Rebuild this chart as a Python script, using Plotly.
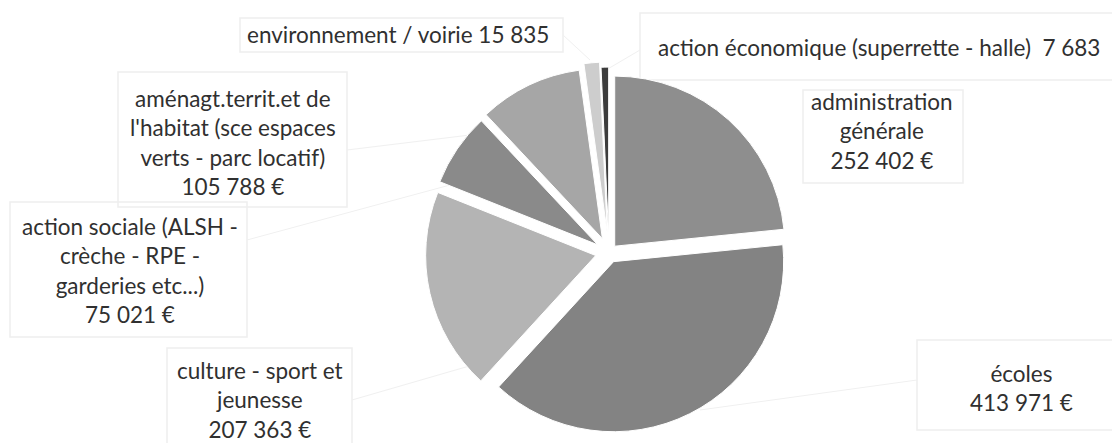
import plotly.graph_objects as go

# ---- data ----
categories = [
    "administration générale",
    "écoles",
    "culture - sport et jeunesse",
    "action sociale (ALSH - crèche - RPE - garderies etc...)",
    "aménagt.territ.et de l'habitat (sce espaces verts - parc locatif)",
    "environnement / voirie",
    "action économique (superrette - halle)",
]
values = [252402, 413971, 207363, 75021, 105788, 15835, 7683]
label_texts = [
    "administration<br>générale<br>252 402 €",
    "écoles<br>413 971 €",
    "culture - sport et<br>jeunesse<br>207 363 €",
    "action sociale (ALSH -<br>crèche - RPE -<br>garderies etc...)<br>75 021 €",
    "aménagt.territ.et de<br>l'habitat (sce espaces<br>verts - parc locatif)<br>105 788 €",
    "environnement / voirie 15 835",
    "action économique (superrette - halle)  7 683",
]

# ---- style ----
colors = ["#8e8e8e", "#838383", "#b4b4b4", "#8a8a8a", "#a6a6a6", "#cdcdcd", "#3c3c3c"]
pulls = [0.05, 0.06, 0.08, 0.08, 0.09, 0.12, 0.09]

W, H = 1112, 443
MT, MB, ML, MR = 62, 0, 0, 0
PW, PH = W - ML - MR, H - MT - MB


def px(x):
    return (x - ML) / PW


def py(y):
    return (H - MB - y) / PH


cx = 609
fig = go.Figure(go.Pie(
    labels=categories,
    values=values,
    sort=False,
    direction="clockwise",
    rotation=0,
    pull=pulls,
    marker=dict(colors=colors, line=dict(color="white", width=1)),
    textinfo="none",
    hoverinfo="label+value",
    domain=dict(x=[px(cx - 200), px(cx + 200)], y=[0, 1]),
    showlegend=False,
))

# label boxes (left, top, right, bottom) and text centres
boxes = [
    (803, 90, 963, 183),
    (917, 340, 1125, 430),
    (167, 348, 352, 460),
    (10, 202, 247, 337),
    (118, 72, 347, 207),
    (240, 18, 563, 52),
    (640, 13, 1125, 80),
]
centres = [
    (882, 131), (1022, 388), (260, 400), (130, 270), (233, 142), (398, 35), (879, 48),
]
# faint leader lines
leaders = [
    ((347, 150), (470, 135)),
    ((247, 240), (450, 185)),
    ((352, 400), (490, 360)),
    ((917, 380), (700, 410)),
    ((563, 35), (590, 60)),
    ((640, 50), (606, 70)),
]

shapes = []
for (l, t, r, b) in boxes:
    shapes.append(dict(type="rect", xref="paper", yref="paper",
                       x0=px(l), x1=px(r), y0=py(b), y1=py(t),
                       line=dict(color="#eeeeee", width=1.5), layer="below"))
for (a, b) in leaders:
    shapes.append(dict(type="line", xref="paper", yref="paper",
                       x0=px(a[0]), y0=py(a[1]), x1=px(b[0]), y1=py(b[1]),
                       line=dict(color="#f0f0f0", width=1), layer="below"))

annotations = []
for txt, (x, y) in zip(label_texts, centres):
    annotations.append(dict(text=txt, x=px(x), y=py(y), xref="paper", yref="paper",
                            showarrow=False, xanchor="center", yanchor="middle",
                            align="center",
                            font=dict(family="Lato", size=22.5, color="#303030")))

fig.update_layout(
    width=W, height=H,
    margin=dict(l=ML, r=MR, t=MT, b=MB),
    paper_bgcolor="white",
    plot_bgcolor="white",
    shapes=shapes,
    annotations=annotations,
)

fig.write_html("out.html")
